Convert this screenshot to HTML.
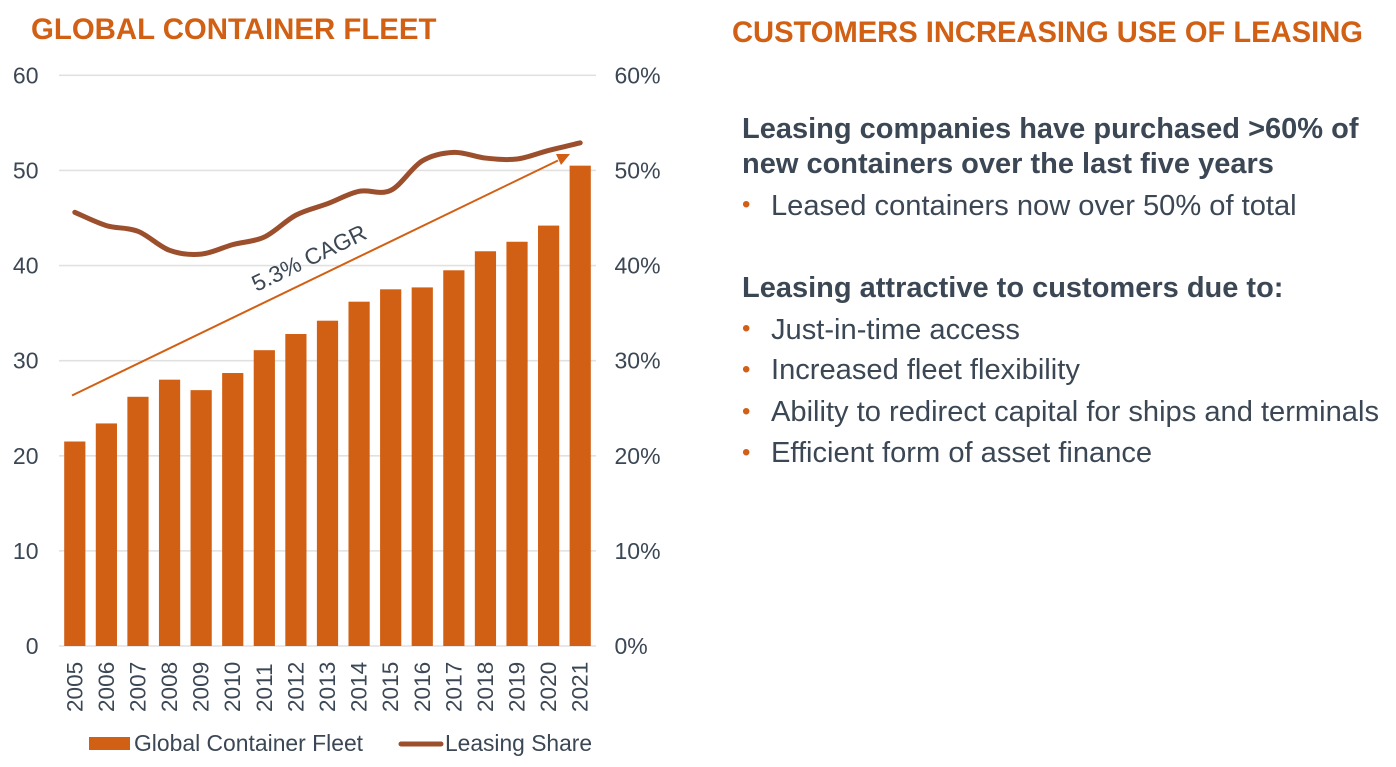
<!DOCTYPE html>
<html>
<head>
<meta charset="utf-8">
<style>
html,body{margin:0;padding:0;background:#fff;}
body{width:1396px;height:767px;overflow:hidden;position:relative;font-family:"Liberation Sans",sans-serif;}
svg{position:absolute;left:0;top:0;}
svg text{font-family:"Liberation Sans",sans-serif;}
.t{position:absolute;white-space:nowrap;color:#3b4754;}
.title{font-weight:bold;font-size:29.4px;color:#d26014;line-height:32px;}
.h{font-weight:bold;font-size:29px;line-height:36px;}
.b{font-size:29.1px;line-height:34px;}
.dot{position:absolute;color:#d26014;font-size:24px;line-height:34px;}
</style>
</head>
<body>
<svg id="chart" width="680" height="767"></svg>
<div class="t title" style="left:31px;top:14px">GLOBAL CONTAINER FLEET</div>
<div class="t title" style="left:732px;top:16.5px;font-size:29.15px">CUSTOMERS INCREASING USE OF LEASING</div>
<div class="t h" style="left:742px;top:110.5px">Leasing companies have purchased &gt;60% of</div>
<div class="t h" style="left:742px;top:146px">new containers over the last five years</div>
<div class="dot" style="left:742px;top:188px">•</div>
<div class="t b" style="left:771px;top:188.5px">Leased containers now over 50% of total</div>
<div class="t h" style="left:742px;top:269.5px">Leasing attractive to customers due to:</div>
<div class="dot" style="left:742px;top:312px">•</div>
<div class="t b" style="left:771px;top:312.5px">Just-in-time access</div>
<div class="dot" style="left:742px;top:353px">•</div>
<div class="t b" style="left:771px;top:352.5px">Increased fleet flexibility</div>
<div class="dot" style="left:742px;top:395px">•</div>
<div class="t b" style="left:771px;top:394.5px">Ability to redirect capital for ships and terminals</div>
<div class="dot" style="left:742px;top:436px">•</div>
<div class="t b" style="left:771px;top:435.5px">Efficient form of asset finance</div>
<script>
const years = ["2005","2006","2007","2008","2009","2010","2011","2012","2013","2014","2015","2016","2017","2018","2019","2020","2021"];
const fleet = [21.5,23.4,26.2,28,26.9,28.7,31.1,32.8,34.2,36.2,37.5,37.7,39.5,41.5,42.5,44.2,50.5];
const leasingShare = [45.6,44.2,43.6,41.6,41.2,42.2,43,45.3,46.5,47.8,47.9,51,51.9,51.3,51.2,52.1,52.9];
const leftTicks = [0,10,20,30,40,50,60];
const rightTicks = ["0%","10%","20%","30%","40%","50%","60%"];

const NS = "http://www.w3.org/2000/svg";
const svg = document.getElementById("chart");
const plotL = 59, plotR = 596, plotT = 75.3, plotB = 646;
const TEXT = "#3b4754", ORANGE = "#d26014", BROWN = "#9c4f2c";
const xBand = (plotR - plotL) / years.length;
const xAt = i => plotL + xBand * (i + 0.5);
const yLeft = v => plotB - (v / 60) * (plotB - plotT);
const yRight = v => plotB - (v / 60) * (plotB - plotT);

function mk(tag, attrs, text) {
  const el = document.createElementNS(NS, tag);
  for (const k in attrs) el.setAttribute(k, attrs[k]);
  if (text !== undefined) el.textContent = text;
  svg.appendChild(el);
  return el;
}

leftTicks.forEach((t, i) => {
  const y = yLeft(t);
  const grid = mk("line", {x1: plotL, x2: plotR, y1: y, y2: y, stroke: "#e1e1e1", "stroke-width": 1.6});
  
  
  const lab = mk("text", {x: 38.5, y: y + 8, "text-anchor": "end", "font-size": 23, fill: TEXT}, String(t));
  
  
  const rlab = mk("text", {x: 614.5, y: y + 8, "font-size": 23, fill: TEXT}, rightTicks[i]);
  
  
});

const barW = 21.2;
years.forEach((yr, i) => {
  const y = yLeft(fleet[i]);
  const bar = mk("rect", {x: xAt(i) - barW / 2, y: y, width: barW, height: plotB - y, fill: ORANGE});
  
  
  const tx = xAt(i) + 7.5, ty = 712;
  const lab = mk("text", {x: tx, y: ty, "font-size": 22.6, fill: TEXT, transform: `rotate(-90 ${tx} ${ty})`}, yr);
  
  
});

const pts = leasingShare.map((v, i) => [xAt(i), yRight(v)]);
let d = `M${pts[0][0]} ${pts[0][1]}`;
for (let i = 0; i < pts.length - 1; i++) {
  const p0 = pts[Math.max(i - 1, 0)], p1 = pts[i], p2 = pts[i + 1], p3 = pts[Math.min(i + 2, pts.length - 1)];
  const c1x = p1[0] + (p2[0] - p0[0]) / 6, c1y = p1[1] + (p2[1] - p0[1]) / 6;
  const c2x = p2[0] - (p3[0] - p1[0]) / 6, c2y = p2[1] - (p3[1] - p1[1]) / 6;
  d += ` C${c1x} ${c1y} ${c2x} ${c2y} ${p2[0]} ${p2[1]}`;
}
const line = mk("path", {d: d, fill: "none", stroke: BROWN, "stroke-width": 5, "stroke-linecap": "round"});



const arrow = mk("line", {x1: 72, y1: 395.5, x2: 558, y2: 160.5, stroke: ORANGE, "stroke-width": 2});


const head = mk("polygon", {points: "570,154 556,154 561,165", fill: ORANGE});


const cagr = mk("text", {x: 256.5, y: 292, "font-size": 22.8, fill: TEXT, transform: "rotate(-25.8 256.5 292)"}, "5.3% CAGR");



const sw1 = mk("rect", {x: 89, y: 737, width: 41, height: 13, fill: ORANGE});


const lg1 = mk("text", {x: 134, y: 751, "font-size": 22.9, fill: TEXT}, "Global Container Fleet");


const sw2 = mk("line", {x1: 401, x2: 441, y1: 744, y2: 744, stroke: BROWN, "stroke-width": 5, "stroke-linecap": "round"});


const lg2 = mk("text", {x: 445, y: 751, "font-size": 22.8, fill: TEXT}, "Leasing Share");


</script>
</body>
</html>
